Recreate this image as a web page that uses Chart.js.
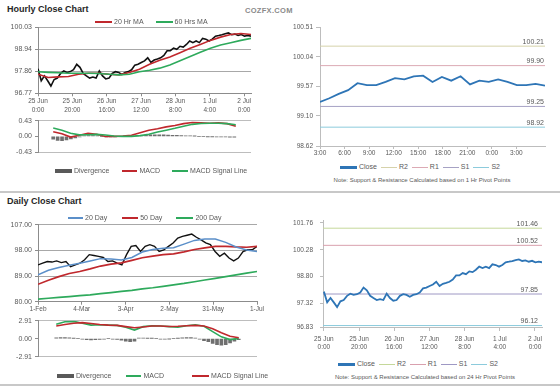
<!DOCTYPE html>
<html><head><meta charset="utf-8">
<script src="https://cdn.jsdelivr.net/npm/chart.js@4/dist/chart.umd.min.js"></script>
<style>
body{margin:0;background:#fff;font-family:"Liberation Sans",Arial,sans-serif;}
#wrap{position:relative;width:560px;height:386px;overflow:hidden;background:#fff;}
canvas{position:absolute;}
.t{position:absolute;white-space:nowrap;}
.title{font-weight:bold;font-size:9px;color:#262626;}
.brand{font-size:7.5px;font-weight:bold;color:#8a8a8a;letter-spacing:0.3px;}
.leg{position:absolute;display:flex;align-items:center;font-size:7px;color:#595959;height:8px;line-height:8px;white-space:nowrap;}
.sw{display:inline-block;margin-right:2px;}
.sep{position:absolute;left:0;width:560px;height:2px;background:#c8c8c8;}
.note{position:absolute;font-size:6px;color:#595959;white-space:nowrap;transform:translateX(-50%);}
</style></head>
<body><div id="wrap">
<div class="t title" style="left:7px;top:4px;">Hourly Close Chart</div>
<div class="t brand" style="left:245px;top:6px;">COZFX.COM</div>
<div class="sep" style="top:191px;"></div>
<div class="t title" style="left:7px;top:196px;">Daily Close Chart</div>
<div class="sep" style="top:384px;"></div>
<div class="note" style="left:422px;top:177px;">Note: Support &amp; Resistance Calculated based on 1 Hr Pivot Points</div>
<div class="note" style="left:425px;top:374px;">Note: Support &amp; Resistance Calculated based on 24 Hr Pivot Points</div>
</div>
<script>
// ---------------- DATA ----------------
// Hourly chart (25 Jun 0:00 -> 2 Jul), close readings spread over ~124 hours
const hourlyClose = [97.98, 97.39, 97.63, 97.39, 97.13, 97.45, 97.52, 97.75, 97.87, 97.80,
  97.84, 97.93, 98.20, 98.05, 97.75, 97.63, 97.52, 97.57, 97.52, 97.87,
  97.63, 97.48, 97.52, 97.75, 97.84, 97.80, 97.70, 97.80, 97.84, 97.93,
  98.16, 98.20, 98.29, 98.37, 98.52, 98.29, 98.41, 98.46, 98.52, 98.64,
  98.87, 98.87, 99.00, 98.94, 99.09, 99.05, 99.18, 99.35, 99.27, 99.35,
  99.27, 99.48, 99.44, 99.35, 99.44, 99.59, 99.62, 99.66, 99.71, 99.75,
  99.66, 99.69, 99.62, 99.67, 99.59, 99.62, 99.59];
const hourlyMA20 = [97.71, 97.55, 97.58, 97.60, 97.71, 97.76, 97.76, 97.71, 97.68, 97.80, 97.96,
  98.20, 98.40, 98.56, 98.77, 98.99, 99.18, 99.38, 99.54, 99.67, 99.72, 99.67];
const hourlyMA60 = [97.83, 97.80, 97.78, 97.76, 97.76, 97.76, 97.75, 97.71, 97.68, 97.71, 97.83,
  97.91, 98.01, 98.17, 98.37, 98.58, 98.79, 98.99, 99.15, 99.26, 99.38, 99.48];
const hourlyMACD = [0.125, 0.07, -0.02, 0.03, 0.085, 0.06, -0.005, 0.0, 0.005, 0.03, 0.10,
  0.17, 0.21, 0.26, 0.30, 0.35, 0.38, 0.37, 0.36, 0.37, 0.35, 0.28];
const hourlySignal = [0.23, 0.17, 0.085, 0.04, 0.045, 0.055, 0.035, 0.01, 0.0, 0.0, 0.02,
  0.06, 0.12, 0.17, 0.22, 0.28, 0.33, 0.355, 0.36, 0.36, 0.35, 0.32];
const hourlyDiv = [-0.08, -0.11, -0.12, -0.1, -0.07, -0.04, -0.01, 0.01, 0.02, 0.02, 0.01, 0.0,
  -0.01, -0.01, -0.01, 0.0, 0.0, 0.005, 0.01, 0.02, 0.03, 0.035, 0.04, 0.04, 0.04, 0.04, 0.035,
  0.03, 0.03, 0.02, 0.015, 0.01, 0.005, 0.0, 0.0, -0.005, -0.005, -0.01, -0.01, -0.015, -0.02, -0.02];
const hourTickPos = [0, 20, 40, 60, 80, 100, 120];
const hourTickLabels = [['25 Jun','0:00'],['25 Jun','20:00'],['26 Jun','16:00'],['27 Jun','12:00'],['28 Jun','8:00'],['1 Jul','4:00'],['2 Jul','0:00']];
const hourPriceTicks = [96.77, 97.86, 98.94, 100.03];
const hourMacdTicks = [-0.43, 0.00, 0.43];

// 1-hour pivot chart (last day)
const dayClose = [99.32, 99.38, 99.45, 99.51, 99.62, 99.59, 99.59, 99.64, 99.70, 99.68, 99.73, 99.74,
  99.64, 99.72, 99.66, 99.73, 99.60, 99.66, 99.64, 99.68, 99.64, 99.59, 99.59, 99.61, 99.58];
const pivot1h = {R2: 100.21, R1: 99.90, S1: 99.25, S2: 98.92};
const dayTickPos = [0, 3, 6, 9, 12, 15, 18, 21, 24];
const dayTickLabels = ['3:00','6:00','9:00','12:00','15:00','18:00','21:00','0:00','3:00'];
const dayPriceTicks = [98.62, 99.10, 99.57, 100.04, 100.51];

// Daily chart (1-Feb -> 1-Jul, trading days)
const dailyClose = [92.9, 93.5, 94.1, 93.9, 94.3, 93.7, 94.1, 92.3, 92.9, 93.5, 94.7, 96.5, 96.2,
  95.9, 95.5, 94.1, 94.3, 93.5, 92.9, 96.5, 99.4, 99.7, 97.6, 99.4, 100.0, 99.4, 97.6, 98.2,
  99.4, 100.6, 102.3, 102.9, 103.3, 103.7, 102.6, 101.7, 100.6, 100.0, 97.6, 95.9, 97.0, 95.3,
  94.3, 95.3, 97.6, 98.2, 98.2, 99.4];
const daily20 = [89.4, 91.0, 92.0, 92.8, 93.5, 94.3, 95.1, 95.0, 94.6, 95.5, 97.4, 98.3, 98.7,
  98.9, 100.2, 101.5, 102.0, 102.0, 100.8, 99.2, 98.1, 97.6];
const daily50 = [86.1, 87.5, 88.8, 89.9, 90.6, 91.5, 92.5, 93.2, 93.6, 94.5, 95.4, 96.0, 96.5,
  96.8, 97.5, 98.3, 98.9, 99.4, 99.4, 99.2, 99.1, 99.4];
const daily200 = [80.9, 81.2, 81.5, 81.8, 82.1, 82.4, 82.8, 83.2, 83.6, 84.0, 84.5, 84.9, 85.4,
  85.9, 86.4, 87.0, 87.6, 88.2, 88.8, 89.4, 90.0, 90.6];
const dailyMACD = [2.34, 2.75, 2.8, 2.5, 2.2, 2.25, 2.2, 2.15, 1.85, 1.4, 1.95, 2.1, 2.05, 1.95,
  1.85, 2.1, 2.25, 2.0, 1.15, 0.3, -0.15, 0.05];
const dailySignal = [2.06, 2.3, 2.5, 2.6, 2.45, 2.3, 2.2, 2.15, 1.95, 1.78, 1.9, 2.05, 2.05, 1.98,
  2.02, 2.1, 2.15, 2.05, 1.6, 0.95, 0.4, 0.16];
const dailyDiv = [0.15, 0.2, 0.2, 0.15, 0.05, 0.0, -0.05, -0.15, -0.2, -0.15, -0.1, -0.05, 0.0,
  -0.05, -0.1, -0.25, -0.4, -0.5, -0.4, 0.1, 0.08, 0.05, 0.03, 0.0, -0.05, -0.05, -0.03, 0.0,
  0.05, 0.15, 0.2, 0.2, 0.1, -0.05, -0.3, -0.5, -0.75, -0.95, -1.05, -0.95, -0.7, -0.4, -0.15];
const dailyTickPos = [0, 21, 42, 63, 84, 105];
const dailyTickLabels = ['1-Feb','4-Mar','3-Apr','2-May','31-May','1-Jul'];
const dailyPriceTicks = [80, 89, 98, 107];
const dailyMacdTicks = [-2.91, 0.00, 2.91];

// 24-hour pivot chart (same hourly closes)
const pivot24h = {R2: 101.46, R1: 100.52, S1: 97.85, S2: 96.12};
const pivPriceTicks = [96.04, 97.32, 98.80, 100.28, 101.76];
const pivPriceLabels = ['96.83', '97.32', '98.80', '100.28', '101.76'];

// ---------------- STYLE ----------------
const C = {black:'#111111', red:'#c0282d', green:'#2eaa5c', blue:'#5b8fc9', close:'#2e75b6',
  div:'#6f6f6f', R2a:'#d6d2aa', R1a:'#dcaab4', S1a:'#a6a2c4', S2a:'#8ccbdc',
  R2b:'#c5d89a', R1b:'#d9a0ae', S1b:'#9e98c4', S2b:'#8ccbdc', axis:'#8c8c8c', axisR:'#bdbdbd', grid:'#a8a8a8'};

Chart.defaults.font.family = '"Liberation Sans", Arial, sans-serif';
Chart.defaults.font.size = 7;
Chart.defaults.color = '#595959';
Chart.defaults.animation = false;

const wrap = document.getElementById('wrap');
const span = (n, x0, x1) => (x1 - x0) / (n - 1);
function pts(vals, x0, x1) { const s = span(vals.length, x0, x1); return vals.map((v, i) => ({x: x0 + i * s, y: v})); }
function hline(v, x0, x1) { return [{x: x0, y: v}, {x: x1, y: v}]; }
function line(label, data, color, w, order) { return {type:'line', label, data, borderColor: color, borderWidth: w, pointRadius: 0, tension: 0, fill: false, order: order || 1}; }
function bars(label, data, color, t) { return {type:'bar', label, data, backgroundColor: color, barThickness: t || 3, order: 5}; }

function xScale(min, max, pos, labels, o) {
  o = o || {};
  return {type:'linear', min, max, display: o.display !== false,
    afterBuildTicks: s => { s.ticks = pos.map(v => ({value: v})); },
    afterFit: s => { s.height = o.h || 12; },
    ticks: {autoSkip:false, maxRotation:0, minRotation:0, padding: o.pad || 0,
      font: {size: o.font || 6.5, lineHeight: (o.lh || 8.5) + 'px'}, callback: (v, i) => labels[i]},
    grid: {drawOnChartArea:false, drawTicks:true, tickLength: o.tl || 3, tickColor: o.ac || C.axis},
    border: {color: o.ac || C.axis}};
}
function yScale(min, max, vals, labels, o) {
  o = o || {};
  return {type:'linear', min, max,
    afterBuildTicks: s => { s.ticks = vals.map(v => ({value: v})); },
    afterFit: s => { s.width = o.w || 38; },
    ticks: {padding: o.pad == null ? 3 : o.pad, font: {size: o.font || 7}, callback: (v, i) => labels[i]},
    grid: o.grid ? {drawOnChartArea:true, color: o.grid, drawTicks:true, tickLength: o.tl || 3, tickColor: o.ac || C.axis}
                 : {drawOnChartArea:false, drawTicks:true, tickLength: o.tl || 3, tickColor: o.ac || C.axis},
    border: {color: o.ac || C.axis}};
}

const pivotLabels = {
  id: 'pivotLabels',
  afterDatasetsDraw(chart, args, opts) {
    if (!opts || !opts.values) return;
    const {ctx, chartArea, scales} = chart;
    ctx.save();
    ctx.font = (opts.size || 7) + 'px "Liberation Sans", Arial, sans-serif';
    ctx.fillStyle = '#595959'; ctx.textAlign = 'right'; ctx.textBaseline = 'alphabetic';
    opts.values.forEach(v => ctx.fillText(v.toFixed(2), chartArea.right - (opts.inset || 1), scales.y.getPixelForValue(v) - 2.5));
    ctx.restore();
  }
};

function makeChart(box, pad, datasets, xs, ys, pivotOpts) {
  const cv = document.createElement('canvas');
  cv.width = box.w; cv.height = box.h;
  cv.style.left = box.x + 'px'; cv.style.top = box.y + 'px';
  cv.style.width = box.w + 'px'; cv.style.height = box.h + 'px';
  wrap.appendChild(cv);
  return new Chart(cv.getContext('2d'), {
    type: 'line',
    data: {datasets},
    options: {responsive:false, animation:false, events:[],
      layout: {padding: pad},
      plugins: {legend:{display:false}, tooltip:{enabled:false}, pivotLabels: pivotOpts || {}},
      scales: {x: xs, y: ys}},
    plugins: [pivotLabels]
  });
}

function legend(x, y, items) {
  const d = document.createElement('div');
  d.className = 'leg'; d.style.left = x + 'px'; d.style.top = (y - 4) + 'px';
  items.forEach((it, i) => {
    const s = document.createElement('span');
    s.className = 'sw'; s.style.width = it.w + 'px'; s.style.height = it.h + 'px'; s.style.background = it.c;
    if (i > 0) s.style.marginLeft = it.gap + 'px';
    const t = document.createElement('span'); t.textContent = it.label;
    d.appendChild(s); d.appendChild(t);
  });
  wrap.appendChild(d);
}

// ---------------- CHARTS ----------------
const H_END = 124;
const gridAll = C.grid;
const gridEnds = ctx => (ctx.tick && ctx.tick.value === 0) ? 'rgba(0,0,0,0)' : '#bdbdbd';

// A: hourly price
makeChart({x:0, y:20, w:262, h:100}, {top:6.7, right:11, bottom:0, left:0}, [
  line('Close', pts(hourlyClose, 0, H_END), C.black, 1.6, 3),
  line('20 Hr MA', pts(hourlyMA20, 0, H_END), C.red, 1.6, 2),
  line('60 Hrs MA', pts(hourlyMA60, 0, H_END), C.green, 1.6, 1)
], xScale(0, H_END, hourTickPos, hourTickLabels, {h:26.7, pad:0.5, lh:9}),
   yScale(96.77, 100.03, hourPriceTicks, hourPriceTicks.map(v => v.toFixed(2)), {w:38, grid:gridAll}));
legend(95, 22, [
  {label:'20 Hr MA', c:C.red, w:17, h:2},
  {label:'60 Hrs MA', c:C.green, w:17, h:2, gap:12}]);

// B: hourly MACD
makeChart({x:0, y:113, w:262, h:53}, {top:7.7, right:11, bottom:2, left:0}, [
  bars('Divergence', pts(hourlyDiv, 0, 123), C.div, 3),
  line('MACD', pts(hourlyMACD, 0, H_END), C.red, 1.6, 2),
  line('MACD Signal Line', pts(hourlySignal, 0, H_END), C.green, 1.6, 1)
], Object.assign(xScale(0, H_END, hourTickPos, hourTickLabels), {display:false}),
   yScale(-0.43, 0.43, hourMacdTicks, hourMacdTicks.map(v => v.toFixed(2)), {w:38, grid:gridEnds}));
legend(55, 171, [
  {label:'Divergence', c:'#595959', w:17, h:4},
  {label:'MACD', c:C.red, w:15, h:2, gap:13},
  {label:'MACD Signal Line', c:C.green, w:16, h:2, gap:12}]);

// C: 1-hour pivot chart
const C_END = 27.5;
makeChart({x:280, y:20, w:270, h:140}, {top:7.3, right:5, bottom:0, left:0}, [
  line('Close', pts(dayClose, 0, C_END), C.close, 1.8, 1),
  line('R2', hline(pivot1h.R2, 0, C_END), C.R2a, 1, 2),
  line('R1', hline(pivot1h.R1, 0, C_END), C.R1a, 1, 2),
  line('S1', hline(pivot1h.S1, 0, C_END), C.S1a, 1, 2),
  line('S2', hline(pivot1h.S2, 0, C_END), C.S2a, 1, 2)
], xScale(0, C_END, dayTickPos, dayTickLabels, {h:14, pad:0, ac:C.axisR}),
   yScale(98.62, 100.51, dayPriceTicks, dayPriceTicks.map(v => v.toFixed(2)), {w:40, tl:4, pad:3, font:6.5, ac:C.axisR}),
   {values:[pivot1h.R2, pivot1h.R1, pivot1h.S1, pivot1h.S2], inset:1});
legend(340, 167, [
  {label:'Close', c:C.close, w:17, h:3},
  {label:'R2', c:C.R2a, w:16, h:1, gap:4},
  {label:'R1', c:C.R1a, w:16, h:1, gap:4},
  {label:'S1', c:C.S1a, w:16, h:1, gap:4},
  {label:'S2', c:C.S2a, w:16, h:1, gap:4}]);

// D: daily price
makeChart({x:0, y:214, w:268, h:100}, {top:10.7, right:11, bottom:0, left:0}, [
  line('Close', pts(dailyClose, 0, 105), C.black, 1.4, 4),
  line('20 Day', pts(daily20, 0, 105), C.blue, 1.5, 1),
  line('50 Day', pts(daily50, 0, 105), C.red, 1.7, 2),
  line('200 Day', pts(daily200, 0, 105), C.green, 1.7, 3)
], xScale(0, 105, dailyTickPos, dailyTickLabels, {h:12.3, pad:0}),
   yScale(80, 107, dailyPriceTicks, dailyPriceTicks.map(v => v.toFixed(2)), {w:38, grid:gridAll}));
legend(68, 218, [
  {label:'20 Day', c:C.blue, w:15, h:2},
  {label:'50 Day', c:C.red, w:16, h:2, gap:15},
  {label:'200 Day', c:C.green, w:17, h:2, gap:14}]);

// E: daily MACD
makeChart({x:0, y:313, w:268, h:58}, {top:7.7, right:11, bottom:2.3, left:0}, [
  bars('Divergence', pts(dailyDiv, 0, 105), C.div, 3),
  line('MACD', pts(dailyMACD, 0, 105), C.green, 1.6, 2),
  line('MACD Signal Line', pts(dailySignal, 0, 105), C.red, 1.6, 1)
], Object.assign(xScale(0, 105, dailyTickPos, dailyTickLabels), {display:false}),
   yScale(-2.91, 2.91, dailyMacdTicks, dailyMacdTicks.map(v => v.toFixed(2)), {w:38, grid:gridEnds}));
legend(57, 376, [
  {label:'Divergence', c:'#595959', w:17, h:4},
  {label:'MACD', c:C.green, w:15, h:2, gap:15},
  {label:'MACD Signal Line', c:C.red, w:17, h:2, gap:28}]);

// F: 24-hour pivot chart
makeChart({x:280, y:210, w:270, h:145}, {top:8.1, right:8, bottom:0, left:0}, [
  line('Close', pts(hourlyClose, 0, H_END), C.close, 1.8, 1),
  line('R2', hline(pivot24h.R2, -0.5, H_END), C.R2b, 1, 2),
  line('R1', hline(pivot24h.R1, -0.5, H_END), C.R1b, 1, 2),
  line('S1', hline(pivot24h.S1, -0.5, H_END), C.S1b, 1, 2),
  line('S2', hline(pivot24h.S2, -0.5, H_END), C.S2b, 1, 2)
], xScale(-0.5, H_END, hourTickPos, hourTickLabels, {h:28, pad:4, tl:4, lh:8, ac:C.axisR}),
   yScale(96.04, 101.86, pivPriceTicks, pivPriceLabels, {w:43, tl:3, pad:7, font:6.5, ac:C.axisR}),
   {values:[pivot24h.R2, pivot24h.R1, pivot24h.S1, pivot24h.S2], inset:4});
legend(338, 364, [
  {label:'Close', c:C.close, w:17, h:3},
  {label:'R2', c:C.R2b, w:16, h:1, gap:4},
  {label:'R1', c:C.R1b, w:16, h:1, gap:4},
  {label:'S1', c:C.S1b, w:16, h:1, gap:4},
  {label:'S2', c:C.S2b, w:16, h:1, gap:4}]);
</script>
</body></html>
